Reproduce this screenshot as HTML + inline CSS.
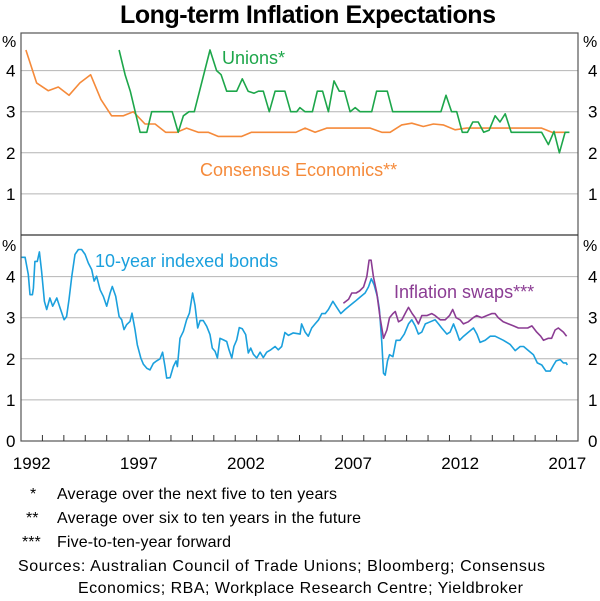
<!DOCTYPE html>
<html><head><meta charset="utf-8"><style>
body{margin:0;background:#fff;width:600px;height:596px;overflow:hidden;font-family:"Liberation Sans",Arial,sans-serif}
svg text{font-family:"Liberation Sans",Arial,sans-serif}
</style></head><body>
<svg id="chart" width="600" height="596" viewBox="0 0 600 596" xmlns="http://www.w3.org/2000/svg">
<text x="308" y="23" text-anchor="middle" font-size="25" font-weight="bold" fill="#000" textLength="376">Long-term Inflation Expectations</text>
<g id="grid"></g><g id="series"></g><g id="axes"></g>
<g font-size="16" fill="#000">
<text x="30" y="499">*</text><text x="57" y="499" textLength="280">Average over the next five to ten years</text>
<text x="26" y="523">**</text><text x="57" y="523" textLength="304">Average over six to ten years in the future</text>
<text x="22" y="547">***</text><text x="57" y="547" textLength="174">Five-to-ten-year forward</text>
<text x="18" y="571" textLength="527">Sources: Australian Council of Trade Unions; Bloomberg; Consensus</text>
<text x="78" y="593" textLength="445">Economics; RBA; Workplace Research Centre; Yieldbroker</text>
</g>
</svg>
<script>
const xTickYears=[1992,1997,2002,2007,2012,2017];
const yTicksTop=[1,2,3,4];
const yTicksBottom=[0,1,2,3,4];
const consensusYears=[1992.23,1992.73,1993.27,1993.74,1994.24,1994.75,1995.25,1995.73,1996.23,1996.78,1997.24,1997.79,1998.26,1998.75,1999.27,1999.73,2000.27,2000.74,2001.2,2001.75,2002.3,2002.76,2004.83,2005.26,2005.73,2006.27,2008.3,2008.84,2009.23,2009.77,2010.24,2010.78,2011.25,2011.71,2012.26,2012.8,2016.3,2016.78,2017.47];
const consensusValues=[4.5,3.7,3.51,3.6,3.4,3.7,3.9,3.3,2.9,2.9,3.0,2.7,2.7,2.5,2.5,2.6,2.5,2.5,2.4,2.4,2.4,2.5,2.5,2.6,2.5,2.6,2.6,2.5,2.5,2.68,2.72,2.64,2.7,2.68,2.56,2.6,2.6,2.5,2.5];
const unionsYears=[1996.58,1996.86,1997.1,1997.56,1997.87,1998.1,1999.06,1999.34,1999.58,1999.84,2000.09,2000.82,2001.13,2001.34,2001.6,2002.07,2002.33,2002.6,2002.88,2003.08,2003.31,2003.59,2003.86,2004.32,2004.59,2004.87,2005.02,2005.26,2005.6,2005.83,2006.08,2006.35,2006.61,2006.86,2007.1,2007.36,2007.6,2007.83,2008.37,2008.6,2009.1,2009.35,2011.6,2011.84,2012.1,2012.34,2012.6,2012.84,2013.09,2013.34,2013.6,2013.85,2014.13,2014.36,2014.6,2014.88,2016.3,2016.62,2016.88,2017.13,2017.4,2017.6];
const unionsValues=[4.5,3.9,3.5,2.5,2.5,3.0,3.0,2.5,2.9,3.0,3.0,4.5,4.0,3.9,3.5,3.5,3.8,3.5,3.45,3.5,3.5,3.0,3.5,3.5,3.0,3.0,3.1,3.0,3.0,3.5,3.5,3.0,3.75,3.5,3.5,3.0,3.1,3.0,3.0,3.5,3.5,3.0,3.0,3.4,3.0,3.0,2.5,2.5,2.75,2.75,2.5,2.55,2.9,2.75,2.95,2.5,2.5,2.2,2.52,2.0,2.5,2.5];
const bondYears=[1992.0,1992.19,1992.34,1992.42,1992.53,1992.58,1992.65,1992.76,1992.86,1992.96,1993.09,1993.2,1993.35,1993.48,1993.67,1993.82,1994.01,1994.13,1994.24,1994.37,1994.52,1994.68,1994.83,1994.99,1995.14,1995.3,1995.41,1995.53,1995.69,1995.84,1996.0,1996.16,1996.26,1996.42,1996.58,1996.7,1996.81,1996.93,1997.09,1997.18,1997.32,1997.43,1997.59,1997.71,1997.87,1998.02,1998.18,1998.33,1998.49,1998.61,1998.72,1998.8,1998.96,1999.11,1999.24,1999.3,1999.42,1999.58,1999.73,1999.86,2000.01,2000.12,2000.25,2000.36,2000.51,2000.67,2000.82,2000.93,2001.06,2001.17,2001.29,2001.45,2001.6,2001.71,2001.84,2001.94,2002.07,2002.19,2002.33,2002.49,2002.61,2002.72,2002.85,2003.0,2003.16,2003.31,2003.47,2003.66,2003.86,2004.01,2004.17,2004.32,2004.48,2004.71,2005.03,2005.1,2005.26,2005.41,2005.57,2005.73,2005.89,2006.04,2006.2,2006.35,2006.56,2006.74,2006.93,2007.13,2007.36,2007.6,2007.83,2008.06,2008.22,2008.35,2008.48,2008.64,2008.73,2008.84,2008.92,2009.0,2009.11,2009.2,2009.36,2009.51,2009.69,2009.89,2010.09,2010.24,2010.4,2010.55,2010.71,2010.87,2011.1,2011.33,2011.49,2011.64,2011.88,2012.03,2012.19,2012.34,2012.47,2012.66,2012.89,2013.12,2013.28,2013.43,2013.67,2013.9,2014.13,2014.52,2014.83,2015.07,2015.3,2015.46,2015.69,2015.92,2016.1,2016.31,2016.5,2016.7,2016.86,2016.98,2017.17,2017.32,2017.45,2017.5];
const bondValues=[4.47,4.47,4.05,3.56,3.56,3.72,4.37,4.37,4.6,4.13,3.4,3.2,3.48,3.28,3.48,3.24,2.95,3.03,3.44,4.01,4.54,4.66,4.66,4.54,4.33,4.17,3.89,4.01,3.68,3.52,3.28,3.6,3.76,3.52,3.03,2.95,2.71,2.83,2.91,3.11,2.71,2.34,2.02,1.87,1.77,1.73,1.89,1.95,2.0,2.16,1.81,1.53,1.54,1.81,1.95,1.81,2.5,2.67,2.95,3.11,3.6,3.3,2.75,2.93,2.93,2.79,2.59,2.26,2.18,2.02,2.5,2.46,2.42,2.22,2.02,2.3,2.46,2.76,2.73,2.59,2.14,2.26,2.11,2.02,2.16,2.03,2.16,2.22,2.3,2.22,2.3,2.64,2.57,2.63,2.6,2.85,2.65,2.55,2.75,2.85,2.95,3.1,3.1,3.2,3.4,3.25,3.1,3.2,3.3,3.4,3.5,3.6,3.75,3.95,3.8,3.5,3.2,2.4,1.65,1.6,1.95,2.1,2.05,2.45,2.45,2.6,2.85,2.95,2.8,2.6,2.65,2.85,2.9,2.95,2.85,2.75,2.6,2.65,2.85,2.65,2.45,2.55,2.65,2.75,2.6,2.4,2.45,2.55,2.55,2.45,2.35,2.2,2.3,2.3,2.2,2.1,1.9,1.85,1.7,1.7,1.85,1.95,1.98,1.9,1.9,1.85];
const swapYears=[2007.05,2007.29,2007.44,2007.64,2007.8,2007.99,2008.14,2008.25,2008.34,2008.45,2008.61,2008.76,2008.92,2009.08,2009.2,2009.36,2009.47,2009.62,2009.78,2009.98,2010.09,2010.26,2010.4,2010.55,2010.71,2010.94,2011.17,2011.33,2011.57,2011.8,2012.0,2012.15,2012.31,2012.49,2012.65,2012.88,2013.11,2013.27,2013.51,2013.74,2013.97,2014.13,2014.28,2014.51,2014.75,2014.99,2015.22,2015.45,2015.65,2015.85,2016.07,2016.26,2016.39,2016.62,2016.77,2016.93,2017.08,2017.32,2017.47];
const swapValues=[3.35,3.45,3.6,3.6,3.65,3.75,4.0,4.4,4.4,4.0,3.6,3.0,2.5,2.7,3.0,3.1,3.15,2.9,2.95,3.15,3.25,3.1,3.0,2.85,3.05,3.05,3.1,3.05,2.95,2.95,3.05,3.2,3.0,2.95,2.85,2.9,3.0,3.05,3.0,3.05,3.1,3.1,3.0,2.9,2.85,2.8,2.75,2.75,2.75,2.8,2.65,2.55,2.45,2.5,2.5,2.7,2.75,2.65,2.55];

const NS='http://www.w3.org/2000/svg';
const L=21,R=578,topY0=235,botY0=441,unit=41.1;
const xs=y=>L+(y-1992)*(R-L)/26;
const yTop=v=>topY0-v*unit;
const yBot=v=>botY0-v*unit;
function mk(tag,attrs,parent){const e=document.createElementNS(NS,tag);for(const k in attrs)e.setAttribute(k,attrs[k]);parent.appendChild(e);return e;}
const grid=document.getElementById('grid'),series=document.getElementById('series'),axes=document.getElementById('axes');
yTicksTop.forEach(v=>{
  const l=mk('line',{x1:L,x2:R,y1:yTop(v),y2:yTop(v),stroke:'#b4b4b4','stroke-width':1},grid);
  
  
  [6,588].forEach(x=>{
    const t=mk('text',{x:x,y:yTop(v)+6,'font-size':17,fill:'#000'},axes);t.textContent=v;
    
    
  });
});
yTicksBottom.forEach(v=>{
  if(v>0){const l=mk('line',{x1:L,x2:R,y1:yBot(v),y2:yBot(v),stroke:'#b4b4b4','stroke-width':1},grid);
  
  }
  [6,588].forEach(x=>{
    const t=mk('text',{x:x,y:yBot(v)+6,'font-size':17,fill:'#000'},axes);t.textContent=v;
    
    
  });
});
[[2,47],[583,47],[2,251],[583,251]].forEach(([x,y])=>{
  const t=mk('text',{x:x,y:y,'font-size':16,fill:'#000'},axes);t.textContent='%';
  
  
});
const fr=mk('rect',{x:L,y:33,width:R-L,height:botY0-33,fill:'none',stroke:'#555','stroke-width':1.2},axes);


const sep=mk('line',{x1:L,x2:R,y1:topY0,y2:topY0,stroke:'#333','stroke-width':1.2},axes);


for(let y=1993;y<2018;y++){
  const t=mk('line',{x1:xs(y),x2:xs(y),y1:botY0,y2:botY0-6,stroke:'#333','stroke-width':1},axes);
  
  
}
xTickYears.forEach(y=>{
  const t=mk('text',{x:xs(y+0.5),y:469,'font-size':17,'text-anchor':'middle',fill:'#000'},axes);t.textContent=y;
  
  
});
function line(xsArr,vals,fy,color,name){
  const p=mk('polyline',{points:xsArr.map((y,i)=>xs(y).toFixed(1)+','+fy(vals[i]).toFixed(1)).join(' '),fill:'none',stroke:color,'stroke-width':1.6,'stroke-linejoin':'round'},series);
  
  
}
line(consensusYears,consensusValues,yTop,'#F58A3A','consensus-economics-line');
line(unionsYears,unionsValues,yTop,'#1DA64A','unions-line');
line(bondYears,bondValues,yBot,'#1BA0DD','indexed-bonds-line');
line(swapYears,swapValues,yBot,'#8B3C93','inflation-swaps-line');
[['Unions*',222,64,'#1DA64A','unions-label'],['Consensus Economics**',200,176,'#F58A3A','consensus-label'],['10-year indexed bonds',95,267,'#1BA0DD','bonds-label'],['Inflation swaps***',394,298,'#8B3C93','swaps-label']].forEach(([s,x,y,c,n])=>{
  const t=mk('text',{x:x,y:y,'font-size':18,fill:c},series);t.textContent=s;
  
  
});
</script>
</body></html>
